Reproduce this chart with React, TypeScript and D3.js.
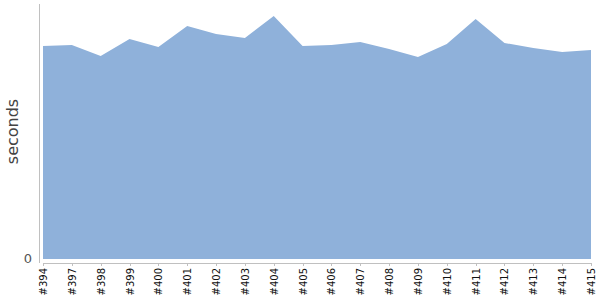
import React from "react";
import * as d3 from "d3";

const builds = ["#394","#397","#398","#399","#400","#401","#402","#403","#404","#405","#406","#407","#408","#409","#410","#411","#412","#413","#414","#415"];
const seconds = [213,214,203,220,212,233,225,221,243,213,214,217,210,202,215,240,216,211,207,209];
const yTicks = [0];

const W = 600, H = 300;
const left = 43, right = 591, top = 4, bottom = 259;

export default function App() {
  const x = d3.scalePoint<string>().domain(builds).range([left, right]);
  const y = d3.scaleLinear().domain([0, 255]).range([bottom, top]);
  const area = d3.area<number>()
    .x((_, i) => x(builds[i]) as number)
    .y0(y(0))
    .y1((d) => y(d));
  const axisY = 263;
  return (
    <svg width={W} height={H} style={{ position: "absolute", left: 0, top: 0 }} fontFamily="DejaVu Sans">
      <path d={area(seconds) || ""} fill="#8fb1da" />
      <line x1={39.5} x2={39.5} y1={4} y2={263} stroke="#c0c0c0" strokeWidth={1} />
      <line x1={left} x2={right} y1={axisY + 0.5} y2={axisY + 0.5} stroke="#c0c0c0" strokeWidth={1} />
      {builds.map((b) => {
        const xx = Math.round(x(b) as number) + 0.5;
        return (
          <g key={b}>
            <line x1={xx} x2={xx} y1={axisY} y2={axisY + 3} stroke="#c0c0c0" />
            <text transform={`translate(${xx + 3.5},${axisY + 5}) rotate(-90)`} textAnchor="end" fontSize={10} fill="#111">{b}</text>
          </g>
        );
      })}
      {yTicks.map((t) => (
        <text key={t} x={32} y={y(t) + 4} textAnchor="end" fontSize={13} fill="#555">{t}</text>
      ))}
      <text transform={`translate(18,${(top + bottom) / 2}) rotate(-90)`} textAnchor="middle" fontSize={16} fill="#444">seconds</text>
    </svg>
  );
}
